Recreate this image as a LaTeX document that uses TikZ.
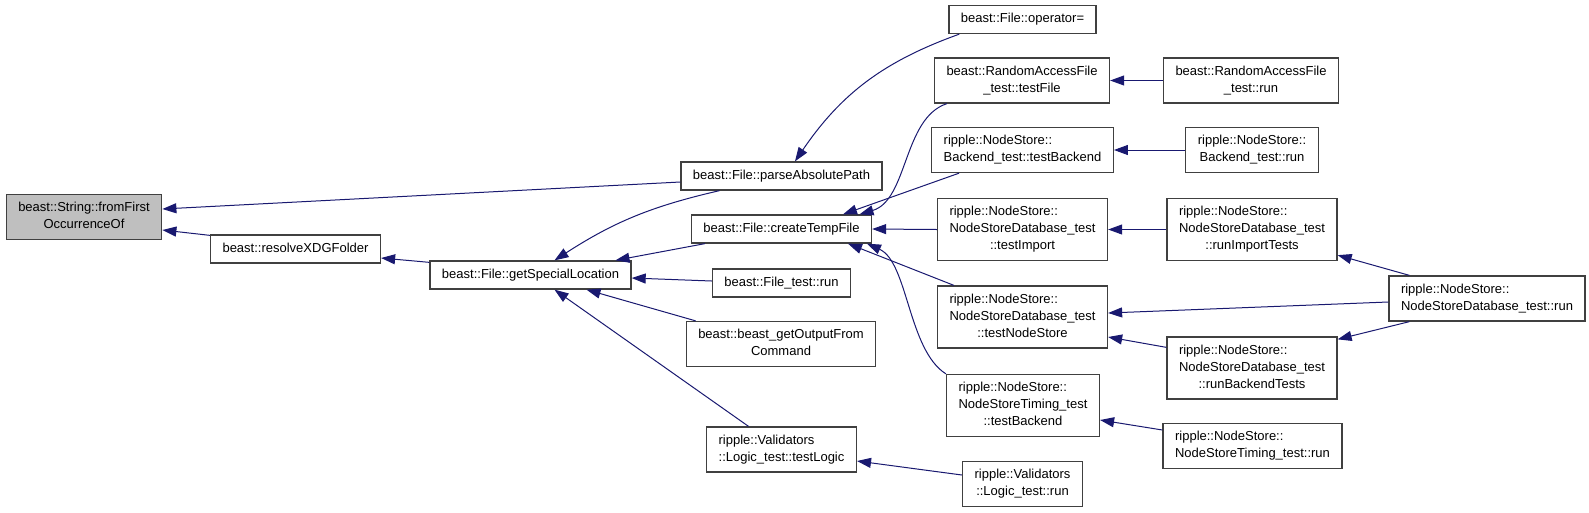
\documentclass[tikz,border=0pt]{standalone}
\usepackage{fontspec}
\setmainfont{Liberation Sans}
\usetikzlibrary{arrows.meta}
\definecolor{edgeblue}{HTML}{191970}
\definecolor{boxline}{HTML}{404040}
\definecolor{boxgray}{HTML}{BFBFBF}
\newcommand{\fl}[1]{\begin{tabular}{@{}c@{}}#1\end{tabular}}
\newcommand{\lline}[1]{\multicolumn{1}{@{}l@{}}{#1}}
\begin{document}
\begin{tikzpicture}[x=1pt, y=-1pt,
    fn/.style={draw=boxline, line width=1.3pt, fill=white, inner xsep=12pt,
      inner ysep=5.5pt, font=\fontsize{13}{17}\selectfont},
    callarrow/.style={draw=edgeblue, line width=1pt,
      {Triangle[length=14pt, width=10pt]}-}]
  \useasboundingbox (0,0) rectangle (1589,512);

  % the function itself
  \node[fn, fill=boxgray] (first) at (84,217) {\fl{beast::String::fromFirst\\OccurrenceOf}};
  \node[fn] (resolve) at (295.5,249) {\fl{beast::resolveXDGFolder}};
  \node[fn] (special) at (530.5,275) {\fl{beast::File::getSpecialLocation}};

  % second column
  \node[fn] (parse) at (781.5,176) {\fl{beast::File::parseAbsolutePath}};
  \node[fn] (temp) at (781.5,229) {\fl{beast::File::createTempFile}};
  \node[fn] (ftrun) at (781.5,283) {\fl{beast::File\_test::run}};
  \node[fn] (getout) at (781,344) {\fl{beast::beast\_getOutputFrom\\Command}};
  \node[fn] (testlogic) at (781.5,449.5) {\fl{\lline{ripple::Validators}\\::Logic\_test::testLogic}};

  % third column
  \node[fn] (opeq) at (1022.5,19.5) {\fl{beast::File::operator=}};
  \node[fn] (raftest) at (1022,80.5) {\fl{beast::RandomAccessFile\\\_test::testFile}};
  \node[fn] (betest) at (1022.5,150) {\fl{\lline{ripple::NodeStore::}\\Backend\_test::testBackend}};
  \node[fn] (import) at (1022.5,229.5) {\fl{\lline{ripple::NodeStore::}\\NodeStoreDatabase\_test\\::testImport}};
  \node[fn] (nodestore) at (1022.5,317) {\fl{\lline{ripple::NodeStore::}\\NodeStoreDatabase\_test\\::testNodeStore}};
  \node[fn] (timing) at (1023,405.5) {\fl{\lline{ripple::NodeStore::}\\NodeStoreTiming\_test\\::testBackend}};
  \node[fn] (logicrun) at (1022.5,484) {\fl{ripple::Validators\\::Logic\_test::run}};

  % fourth column
  \node[fn] (rafrun) at (1251,80.5) {\fl{beast::RandomAccessFile\\\_test::run}};
  \node[fn] (berun) at (1252,150) {\fl{ripple::NodeStore::\\Backend\_test::run}};
  \node[fn] (runimport) at (1252,229.5) {\fl{\lline{ripple::NodeStore::}\\NodeStoreDatabase\_test\\::runImportTests}};
  \node[fn] (runbackend) at (1252,368) {\fl{\lline{ripple::NodeStore::}\\NodeStoreDatabase\_test\\::runBackendTests}};
  \node[fn] (timingrun) at (1252.5,446) {\fl{\lline{ripple::NodeStore::}\\NodeStoreTiming\_test::run}};
  \node[fn] (nsdbrun) at (1487,298.5) {\fl{\lline{ripple::NodeStore::}\\NodeStoreDatabase\_test::run}};

  % callers
  \draw[callarrow] ([yshift=8pt]first.east) -- ([yshift=-6pt]parse.west);
  \draw[callarrow] ([yshift=-13pt]first.east) -- ([yshift=-1pt]resolve.north west);
  \draw[callarrow] ([yshift=-9pt]resolve.east) -- ([yshift=-2pt]special.north west);
  \draw[callarrow] ([xshift=24pt]special.north) to[bend left=10] ([xshift=-62pt]parse.south);
  \draw[callarrow] ([xshift=85pt]special.north) -- ([xshift=14pt]temp.south west);
  \draw[callarrow] ([yshift=-3pt]special.east) -- ([yshift=2pt]ftrun.west);
  \draw[callarrow] ([xshift=56pt]special.south) -- ([xshift=10pt]getout.north west);
  \draw[callarrow] ([xshift=24pt]special.south) -- ([xshift=-33pt]testlogic.north);
  \draw[callarrow] ([xshift=13.5pt]parse.north) to[bend left=18] ([xshift=11pt]opeq.south west);
  \draw[callarrow] ([xshift=78pt]temp.north) .. controls (908,200) and (903,118) .. ([xshift=13pt]raftest.south west);
  \draw[callarrow] ([xshift=61.5pt]temp.north) -- ([xshift=28pt]betest.south west);
  \draw[callarrow] (temp.east) -- (import.west);
  \draw[callarrow] ([xshift=66.5pt]temp.south) -- ([xshift=17pt]nodestore.north west);
  \draw[callarrow] ([xshift=85.5pt]temp.south) .. controls (908,262) and (908,350) .. (timing.north west);
  \draw[callarrow] (raftest.east) -- (rafrun.west);
  \draw[callarrow] (betest.east) -- (berun.west);
  \draw[callarrow] (import.east) -- (runimport.west);
  \draw[callarrow] ([yshift=6pt]runimport.south east) -- ([xshift=21pt]nsdbrun.north west);
  \draw[callarrow] ([yshift=4pt]nodestore.east) -- ([yshift=-3.5pt]nsdbrun.west);
  \draw[callarrow] ([yshift=-20pt]nodestore.east) -- ([yshift=-11pt]runbackend.north west);
  \draw[callarrow] ([yshift=-3pt]runbackend.north east) -- ([xshift=21pt]nsdbrun.south west);
  \draw[callarrow] ([yshift=-14.5pt]timing.east) -- ([yshift=16pt]timingrun.west);
  \draw[callarrow] ([yshift=-11.5pt]testlogic.east) -- ([yshift=9pt]logicrun.west);
\end{tikzpicture}
\end{document}
